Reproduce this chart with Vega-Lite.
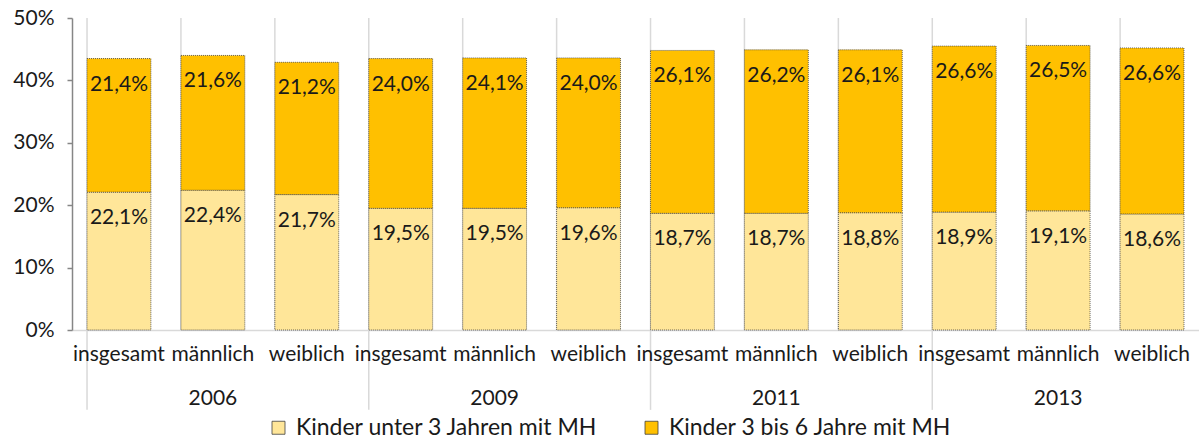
{
  "$schema": "https://vega.github.io/schema/vega-lite/v6.json",
  "width": 1127,
  "height": 312,
  "autosize": "none",
  "padding": {"left": 72, "top": 18, "right": 0, "bottom": 109},
  "config": {"font": "Lato", "view": {"stroke": null}},
  "datasets": {
    "werte": [
      {"key": "2006|insgesamt", "serie": "Kinder unter 3 Jahren mit MH", "o": 1, "wert": 0.221, "lbl": "22,1%"},
      {"key": "2006|insgesamt", "serie": "Kinder 3 bis 6 Jahre mit MH", "o": 2, "wert": 0.214, "lbl": "21,4%"},
      {"key": "2006|männlich", "serie": "Kinder unter 3 Jahren mit MH", "o": 1, "wert": 0.224, "lbl": "22,4%"},
      {"key": "2006|männlich", "serie": "Kinder 3 bis 6 Jahre mit MH", "o": 2, "wert": 0.216, "lbl": "21,6%"},
      {"key": "2006|weiblich", "serie": "Kinder unter 3 Jahren mit MH", "o": 1, "wert": 0.217, "lbl": "21,7%"},
      {"key": "2006|weiblich", "serie": "Kinder 3 bis 6 Jahre mit MH", "o": 2, "wert": 0.212, "lbl": "21,2%"},
      {"key": "2009|insgesamt", "serie": "Kinder unter 3 Jahren mit MH", "o": 1, "wert": 0.195, "lbl": "19,5%"},
      {"key": "2009|insgesamt", "serie": "Kinder 3 bis 6 Jahre mit MH", "o": 2, "wert": 0.240, "lbl": "24,0%"},
      {"key": "2009|männlich", "serie": "Kinder unter 3 Jahren mit MH", "o": 1, "wert": 0.195, "lbl": "19,5%"},
      {"key": "2009|männlich", "serie": "Kinder 3 bis 6 Jahre mit MH", "o": 2, "wert": 0.241, "lbl": "24,1%"},
      {"key": "2009|weiblich", "serie": "Kinder unter 3 Jahren mit MH", "o": 1, "wert": 0.196, "lbl": "19,6%"},
      {"key": "2009|weiblich", "serie": "Kinder 3 bis 6 Jahre mit MH", "o": 2, "wert": 0.240, "lbl": "24,0%"},
      {"key": "2011|insgesamt", "serie": "Kinder unter 3 Jahren mit MH", "o": 1, "wert": 0.187, "lbl": "18,7%"},
      {"key": "2011|insgesamt", "serie": "Kinder 3 bis 6 Jahre mit MH", "o": 2, "wert": 0.261, "lbl": "26,1%"},
      {"key": "2011|männlich", "serie": "Kinder unter 3 Jahren mit MH", "o": 1, "wert": 0.187, "lbl": "18,7%"},
      {"key": "2011|männlich", "serie": "Kinder 3 bis 6 Jahre mit MH", "o": 2, "wert": 0.262, "lbl": "26,2%"},
      {"key": "2011|weiblich", "serie": "Kinder unter 3 Jahren mit MH", "o": 1, "wert": 0.188, "lbl": "18,8%"},
      {"key": "2011|weiblich", "serie": "Kinder 3 bis 6 Jahre mit MH", "o": 2, "wert": 0.261, "lbl": "26,1%"},
      {"key": "2013|insgesamt", "serie": "Kinder unter 3 Jahren mit MH", "o": 1, "wert": 0.189, "lbl": "18,9%"},
      {"key": "2013|insgesamt", "serie": "Kinder 3 bis 6 Jahre mit MH", "o": 2, "wert": 0.266, "lbl": "26,6%"},
      {"key": "2013|männlich", "serie": "Kinder unter 3 Jahren mit MH", "o": 1, "wert": 0.191, "lbl": "19,1%"},
      {"key": "2013|männlich", "serie": "Kinder 3 bis 6 Jahre mit MH", "o": 2, "wert": 0.265, "lbl": "26,5%"},
      {"key": "2013|weiblich", "serie": "Kinder unter 3 Jahren mit MH", "o": 1, "wert": 0.186, "lbl": "18,6%"},
      {"key": "2013|weiblich", "serie": "Kinder 3 bis 6 Jahre mit MH", "o": 2, "wert": 0.266, "lbl": "26,6%"}
    ],
    "kat": [
      {"key": "2006|insgesamt", "gruppe": "insgesamt"},
      {"key": "2006|männlich", "gruppe": "männlich"},
      {"key": "2006|weiblich", "gruppe": "weiblich"},
      {"key": "2009|insgesamt", "gruppe": "insgesamt"},
      {"key": "2009|männlich", "gruppe": "männlich"},
      {"key": "2009|weiblich", "gruppe": "weiblich"},
      {"key": "2011|insgesamt", "gruppe": "insgesamt"},
      {"key": "2011|männlich", "gruppe": "männlich"},
      {"key": "2011|weiblich", "gruppe": "weiblich"},
      {"key": "2013|insgesamt", "gruppe": "insgesamt"},
      {"key": "2013|männlich", "gruppe": "männlich"},
      {"key": "2013|weiblich", "gruppe": "weiblich"}
    ],
    "jahre": [
      {"start": "2006|insgesamt", "mitte": "2006|männlich", "jahr": "2006"},
      {"start": "2009|insgesamt", "mitte": "2009|männlich", "jahr": "2009"},
      {"start": "2011|insgesamt", "mitte": "2011|männlich", "jahr": "2011"},
      {"start": "2013|insgesamt", "mitte": "2013|männlich", "jahr": "2013"}
    ]
  },
  "layer": [
    {
      "data": {"name": "kat"},
      "mark": {"type": "rule", "color": "#d9d9d9", "strokeWidth": 1.5},
      "encoding": {
        "x": {"field": "key", "type": "nominal", "sort": null, "bandPosition": 0},
        "y": {"datum": 0, "type": "quantitative"},
        "y2": {"datum": 0.5}
      }
    },
    {
      "data": {"name": "jahre"},
      "mark": {"type": "rule", "color": "#d9d9d9", "strokeWidth": 1.5},
      "encoding": {
        "x": {"field": "start", "type": "nominal", "sort": null, "bandPosition": 0},
        "y": {"datum": 0, "type": "quantitative"},
        "y2": {"datum": -0.128}
      }
    },
    {
      "data": {"name": "werte"},
      "mark": {"type": "bar", "stroke": "#404040", "strokeWidth": 0.8, "strokeDash": [1, 1]},
      "encoding": {
        "x": {
          "field": "key",
          "type": "nominal",
          "sort": null,
          "scale": {"paddingInner": 0.32, "paddingOuter": 0.16},
          "axis": {
            "title": null,
            "labels": false,
            "ticks": false,
            "grid": false,
            "domainColor": "#d9d9d9",
            "domainWidth": 1.5
          }
        },
        "y": {
          "field": "wert",
          "type": "quantitative",
          "stack": "zero",
          "scale": {"domain": [0, 0.5]},
          "axis": {
            "title": null,
            "format": ".0%",
            "tickCount": 5,
            "grid": false,
            "labelFontSize": 21,
            "labelColor": "#1a1a1a",
            "labelPadding": 13,
            "domainColor": "#868686",
            "domainWidth": 1.5,
            "tickColor": "#868686",
            "tickWidth": 1.5,
            "tickSize": 5
          }
        },
        "order": {"field": "o", "type": "quantitative"},
        "color": {
          "field": "serie",
          "type": "nominal",
          "sort": null,
          "scale": {
            "domain": ["Kinder unter 3 Jahren mit MH", "Kinder 3 bis 6 Jahre mit MH"],
            "range": ["#FFE699", "#FFC000"]
          },
          "legend": {
            "title": null,
            "orient": "none",
            "legendX": 195,
            "legendY": 398,
            "padding": 0,
            "direction": "horizontal",
            "symbolType": "square",
            "symbolSize": 169,
            "symbolStrokeColor": "#404040",
            "symbolStrokeWidth": 0.8,
            "labelFontSize": 23,
            "labelColor": "#1a1a1a",
            "labelOffset": 6,
            "columnPadding": 42,
            "labelLimit": 400
          }
        }
      }
    },
    {
      "data": {"name": "werte"},
      "mark": {"type": "text", "baseline": "middle", "dy": 26, "fontSize": 21, "color": "#1a1a1a"},
      "encoding": {
        "x": {"field": "key", "type": "nominal", "sort": null},
        "y": {"field": "wert", "type": "quantitative", "stack": "zero"},
        "order": {"field": "o", "type": "quantitative"},
        "detail": {"field": "serie"},
        "text": {"field": "lbl", "type": "nominal"}
      }
    },
    {
      "data": {"name": "kat"},
      "mark": {"type": "text", "baseline": "middle", "fontSize": 21, "color": "#1a1a1a"},
      "encoding": {
        "x": {"field": "key", "type": "nominal", "sort": null},
        "y": {"datum": -0.04, "type": "quantitative"},
        "text": {"field": "gruppe", "type": "nominal"}
      }
    },
    {
      "data": {"name": "jahre"},
      "mark": {"type": "text", "baseline": "middle", "fontSize": 21, "color": "#1a1a1a"},
      "encoding": {
        "x": {"field": "mitte", "type": "nominal", "sort": null},
        "y": {"datum": -0.11, "type": "quantitative"},
        "text": {"field": "jahr", "type": "nominal"}
      }
    }
  ]
}
